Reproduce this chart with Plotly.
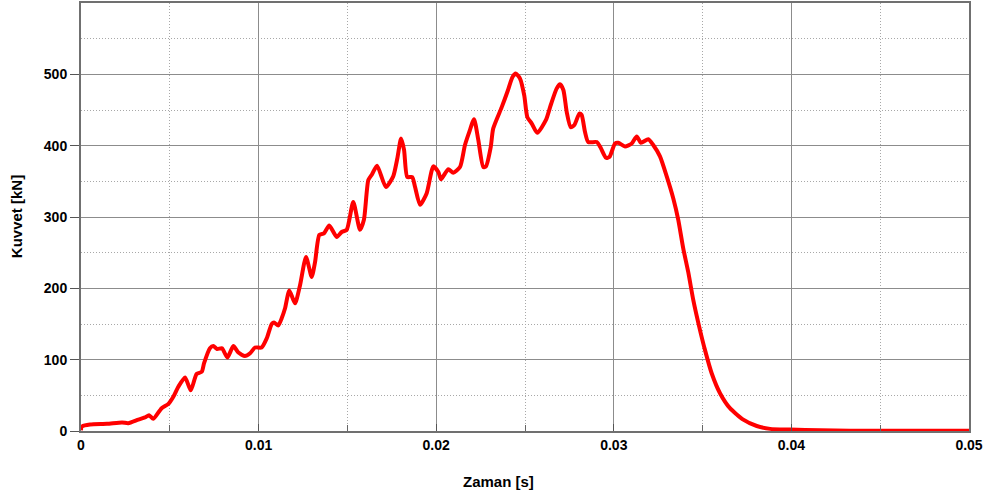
import plotly.graph_objects as go

time_ms = [0, 0.04, 0.51, 1.46, 2.31, 2.66, 3.23, 3.60, 3.83, 4.07, 4.54, 4.92, 5.20, 5.48, 5.86,
           6.18, 6.51, 6.80, 6.93, 7.26, 7.45, 7.66, 7.94, 8.24, 8.58, 8.86, 9.23, 9.52, 9.80,
           10.17, 10.46, 10.74, 10.87, 11.11, 11.30, 11.49, 11.73, 12.05, 12.33, 12.67, 12.99,
           13.18, 13.42, 13.68, 13.98, 14.40, 14.68, 14.96, 15.33, 15.71, 15.93, 16.18, 16.39,
           16.67, 17.17, 17.58, 17.81, 18.02, 18.19, 18.37, 18.65, 18.81, 19.09, 19.46, 19.84,
           20.12, 20.27, 20.68, 20.96, 21.34, 21.62, 21.86, 22.13, 22.37, 22.65, 22.80, 23.07,
           23.21, 23.69, 24.03, 24.29, 24.48, 24.72, 24.96, 25.13, 25.38, 25.69, 26.18, 26.45,
           26.78, 26.97, 27.16, 27.35, 27.57, 27.78, 28.06, 28.19, 28.38, 28.56, 29.04, 29.26,
           29.56, 29.75, 30.07, 30.25, 30.63, 31.01, 31.29, 31.53, 31.94, 32.22, 32.60, 32.98,
           33.35, 33.63, 33.91, 34.19, 34.48, 34.81, 35.14, 35.51, 35.98, 36.54, 37.29, 38.05,
           38.80, 39.92, 41.61, 43.30, 46.11, 50.00]
force_kn = [1, 6, 9, 10, 12, 11, 16, 19, 22, 17, 32, 38, 48, 62, 75,
            57, 80, 83, 95, 116, 119, 115, 116, 103, 119, 110, 105, 109, 117,
            117, 130, 150, 152, 148, 158, 172, 197, 179, 204, 244, 216,
            237, 275, 277, 288, 272, 279, 282, 321, 282, 296, 352, 360,
            372, 342, 357, 382, 410, 394, 356, 356, 342, 317, 333, 371,
            363, 353, 367, 362, 370, 401, 419, 437, 408, 370, 371, 398,
            424, 454, 477, 496, 501, 494, 470, 440, 431, 418, 436, 457,
            480, 486, 478, 447, 426, 429, 445, 443, 419, 405, 405, 397,
            383, 384, 403, 404, 399, 403, 413, 404, 409, 401, 385, 357,
            326, 296, 256, 223, 183, 146, 113, 81, 53, 32, 16, 7,
            3, 2, 1, 0.5, 0.3, 0.2]
time_s = [t / 1000.0 for t in time_ms]

x_ticks = [0, 0.01, 0.02, 0.03, 0.04, 0.05]
x_tick_text = ["0", "0.01", "0.02", "0.03", "0.04", "0.05"]
y_ticks = [0, 100, 200, 300, 400, 500]

font_family = "Liberation Sans, Arial, sans-serif"

fig = go.Figure()
fig.add_trace(go.Scatter(x=time_s, y=force_kn, mode="lines",
                         line=dict(color="#ff0000", width=4, shape="spline", smoothing=0.6),
                         hoverinfo="skip", showlegend=False, cliponaxis=False))

fig.update_layout(
    width=989, height=499,
    margin=dict(l=81, r=20, t=3, b=68, autoexpand=False),
    paper_bgcolor="white", plot_bgcolor="white",
    font=dict(family=font_family, size=14, color="black"),
    xaxis=dict(range=[0, 0.05], tickvals=x_ticks, ticktext=["<b>%s</b>" % s for s in x_tick_text],
               showgrid=True, gridcolor="#8c8c8c", gridwidth=1,
               ticks="inside", ticklen=7, tickcolor="#555555",
               minor=dict(dtick=0.005, tick0=0, showgrid=True, gridcolor="#a8a8a8", griddash="1px,2px",
                          ticks="inside", ticklen=6, tickcolor="#666666"),
               showline=True, linecolor="#707070", linewidth=2, mirror=True,
               zeroline=False, tickfont=dict(size=14)),
    yaxis=dict(range=[0, 600], tickvals=y_ticks, ticktext=["<b>%d</b>" % v for v in y_ticks],
               showgrid=True, gridcolor="#8c8c8c", gridwidth=1,
               ticks="outside", ticklen=9, tickcolor="#555555",
               minor=dict(dtick=50, tick0=0, showgrid=True, gridcolor="#a8a8a8", griddash="1px,2px"),
               showline=True, linecolor="#707070", linewidth=2, mirror=True,
               zeroline=False, tickfont=dict(size=14)),
    annotations=[
        dict(text="<b>Zaman [s]</b>", xref="paper", yref="paper", x=0.47, y=-0.117,
             xanchor="center", yanchor="middle", showarrow=False, font=dict(size=15)),
        dict(text="<b>Kuvvet [kN]</b>", xref="paper", yref="paper", x=-0.073, y=0.50,
             xanchor="center", yanchor="middle", showarrow=False, textangle=-90, font=dict(size=15)),
    ],
)

fig.write_html("out.html", config={"displayModeBar": False},
               post_script="document.body.style.margin='0';document.body.style.overflow='hidden';")
